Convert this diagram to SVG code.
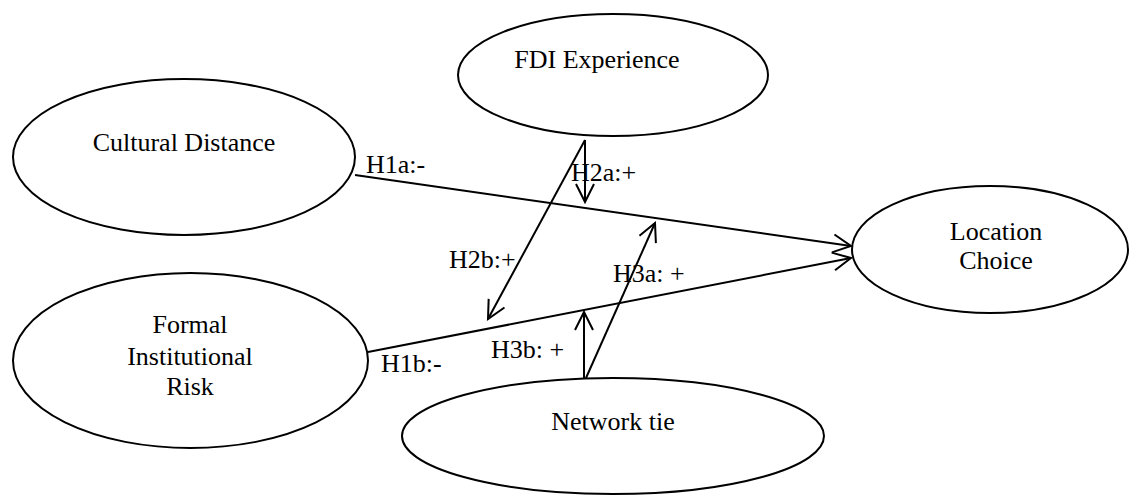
<svg xmlns="http://www.w3.org/2000/svg" width="1131" height="495" viewBox="0 0 1131 495">
<style>
.node{fill:#fff;stroke:#000;stroke-width:2}
.t{font-family:"Liberation Serif","Times New Roman",serif;font-size:26px;fill:#000;text-anchor:middle}
.lbl{font-family:"Liberation Serif","Times New Roman",serif;font-size:26px;fill:#000}
.c{stroke:#000;stroke-width:2;fill:none;marker-end:url(#arr)}
</style>
<defs>
<marker id="arr" markerUnits="userSpaceOnUse" markerWidth="30" markerHeight="30" refX="0" refY="0" orient="auto" overflow="visible">
<path d="M-18,-9 L0,0 L-18,9" fill="none" stroke="#000" stroke-width="2"/>
</marker>
</defs>
<g id="fdi"><ellipse class="node" cx="613" cy="75" rx="155" ry="61"/><text class="t" x="597" y="68">FDI Experience</text></g>
<g id="cultural"><ellipse class="node" cx="184" cy="157" rx="171" ry="78"/><text class="t" x="184" y="151">Cultural Distance</text></g>
<g id="formal"><ellipse class="node" cx="190.5" cy="360.5" rx="177.5" ry="87.5"/><text class="t" x="190" y="333">Formal</text><text class="t" x="190" y="365">Institutional</text><text class="t" x="190" y="395">Risk</text></g>
<g id="location"><ellipse class="node" cx="990" cy="249.5" rx="138" ry="63.5"/><text class="t" x="996" y="240">Location</text><text class="t" x="996" y="269">Choice</text></g>
<g id="network"><ellipse class="node" cx="613" cy="436" rx="211" ry="58"/><text class="t" x="613" y="430">Network tie</text></g>
<g id="connectors">
<line class="c" x1="355" y1="175" x2="851" y2="246"/>
<line class="c" x1="368" y1="352" x2="851" y2="258"/>
<line class="c" x1="585" y1="140" x2="585" y2="202"/>
<line class="c" x1="585" y1="140" x2="488" y2="319"/>
<line class="c" x1="586" y1="378" x2="655" y2="223"/>
<line class="c" x1="584" y1="378" x2="584" y2="312"/>
</g>
<g id="labels">
<text class="lbl" x="366" y="173">H1a:-</text>
<text class="lbl" x="571" y="181">H2a:+</text>
<text class="lbl" x="449" y="268">H2b:+</text>
<text class="lbl" x="613" y="282">H3a: +</text>
<text class="lbl" x="491" y="358">H3b: +</text>
<text class="lbl" x="381" y="372">H1b:-</text>
</g>
</svg>
